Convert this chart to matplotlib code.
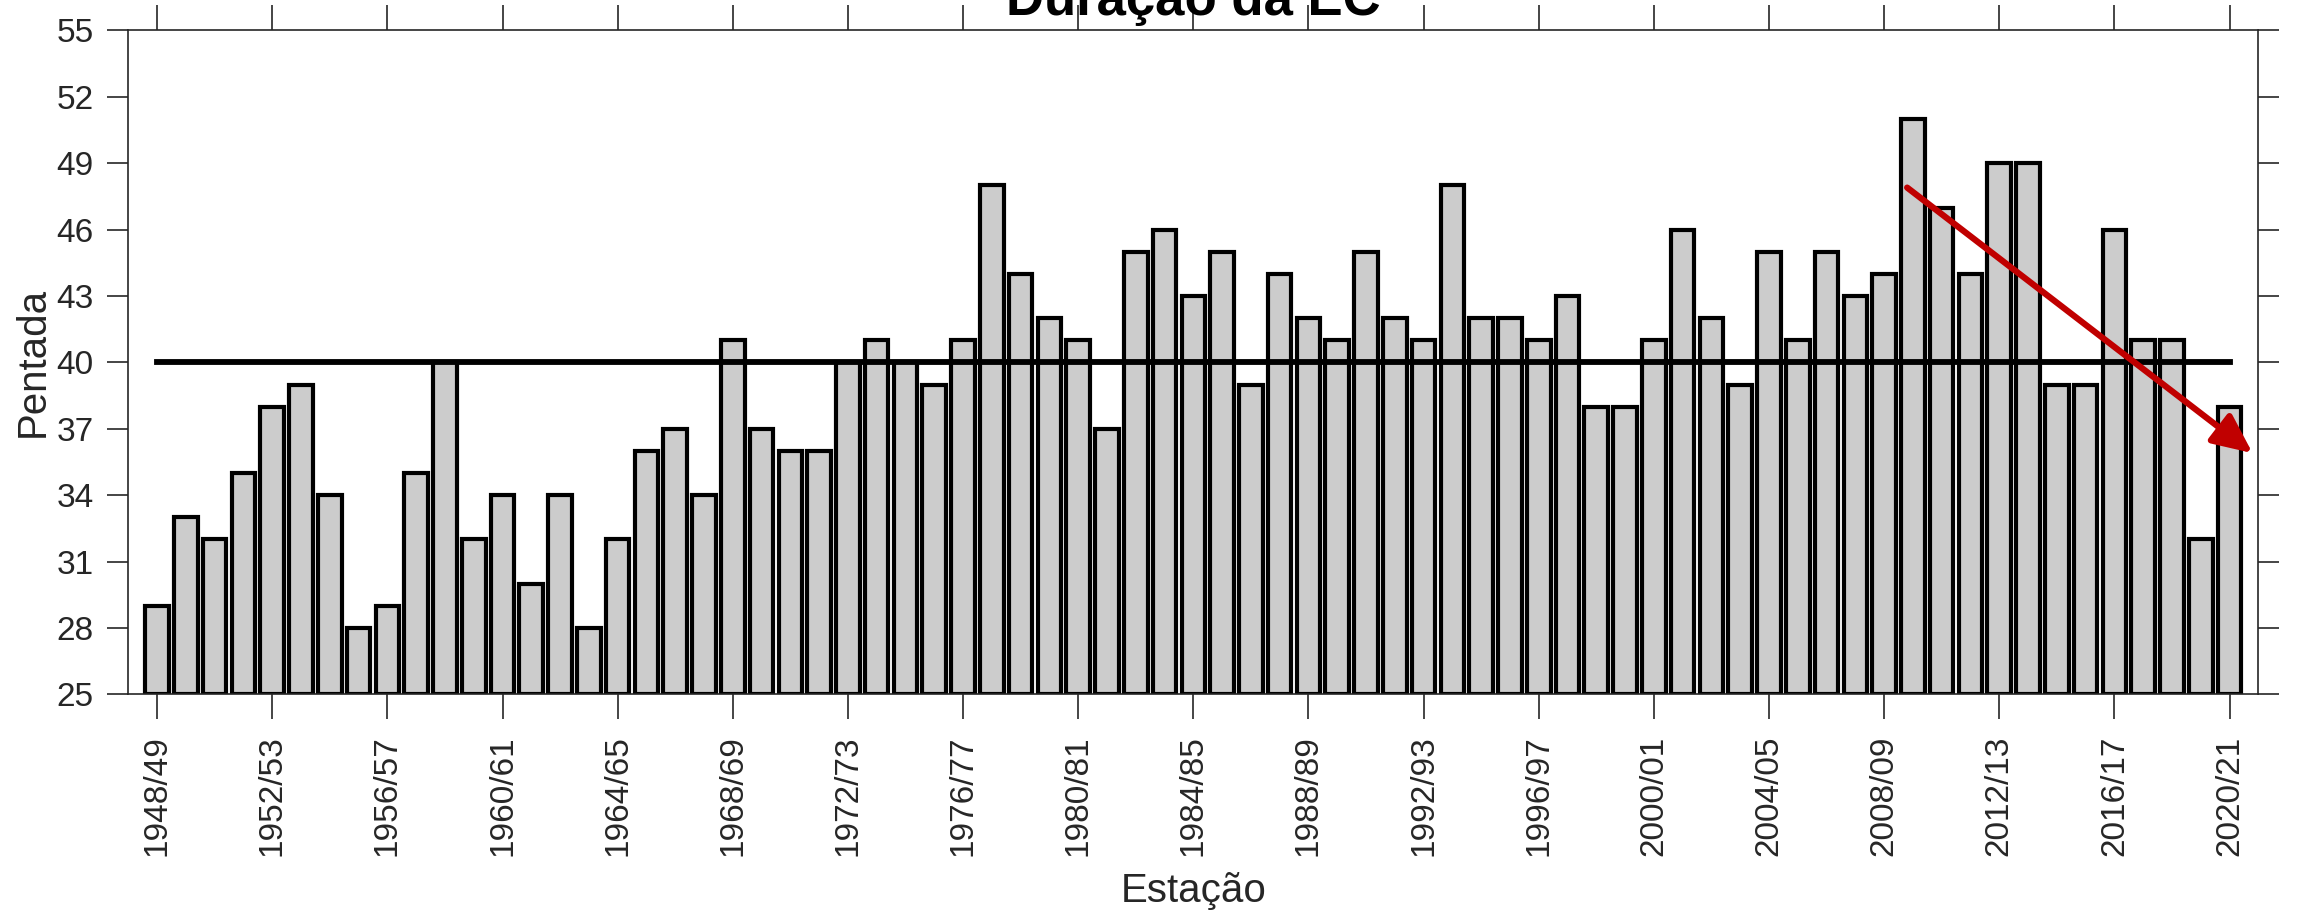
import numpy as np
import matplotlib
matplotlib.use("Agg")
import matplotlib.pyplot as plt

plt.rcParams['font.family'] = ['Liberation Sans', 'DejaVu Sans']

# one season per bar, 1948/49 .. 2020/21
start_years = list(range(1948, 2021))
seasons = [f"{y}/{str(y + 1)[-2:]}" for y in start_years]
duracao = [29, 33, 32, 35, 38, 39, 34, 28, 29, 35,
           40, 32, 34, 30, 34, 28, 32, 36, 37, 34,
           41, 37, 36, 36, 40, 41, 40, 39, 41, 48,
           44, 42, 41, 37, 45, 46, 43, 45, 39, 44,
           42, 41, 45, 42, 41, 48, 42, 42, 41, 43,
           38, 38, 41, 46, 42, 39, 45, 41, 45, 43,
           44, 51, 47, 44, 49, 49, 39, 39, 46, 41,
           41, 32, 38]
mean_level = 40
y_ticks = list(range(25, 56, 3))
tick_every = 4

# trend arrow (start, end) in season index / pentada
arrow_start = (60.8, 47.9)
arrow_end = (72.8, 35.9)

axis_color = '#262626'

fig = plt.figure(figsize=(22.97, 9.17), dpi=100)
ax = fig.add_axes([0.05586, 0.24285, 0.9273, 0.72389])

x = np.arange(len(duracao))
ax.bar(x, np.array(duracao) - 25, bottom=25, width=0.82, color='#cccccc',
       edgecolor='black', linewidth=3, zorder=2)
ax.plot([x[0], x[-1]], [mean_level, mean_level], color='black', lw=4.2, zorder=3)

ax.annotate('', xy=arrow_end, xytext=arrow_start,
            arrowprops=dict(arrowstyle='-|>,head_length=1.2,head_width=0.55',
                            color='#c00000', lw=4.5, shrinkA=0, shrinkB=0,
                            mutation_scale=20),
            zorder=4)

ax.set_xlim(-1, 73)
ax.set_ylim(25, 55)
ax.set_yticks(y_ticks)
ax.set_xticks(x[::tick_every])
ax.set_xticklabels(seasons[::tick_every], rotation=90)

for sp in ax.spines.values():
    sp.set_color(axis_color)
    sp.set_linewidth(1.2)

ax.tick_params(axis='both', direction='out', colors=axis_color, width=1.2,
               labelsize=24, top=True, right=True)
ax.tick_params(axis='x', length=18, pad=11.5)
ax.tick_params(axis='y', length=15, pad=10)

ax.set_ylabel('Pentada', fontsize=29, color=axis_color)
ax.yaxis.label.set_verticalalignment('baseline')
ax.yaxis.set_label_coords(-0.0396, 0.5)
ax.set_xlabel('Estação', fontsize=29, color=axis_color)
ax.xaxis.label.set_verticalalignment('baseline')
ax.xaxis.set_label_coords(0.5, -0.3128)

fig.text(0.5195, 1 - 15 / 917, 'Duração da EC', ha='center', va='baseline',
         fontsize=38, fontweight='bold', color='black')

fig.savefig('out.png', dpi=100)
